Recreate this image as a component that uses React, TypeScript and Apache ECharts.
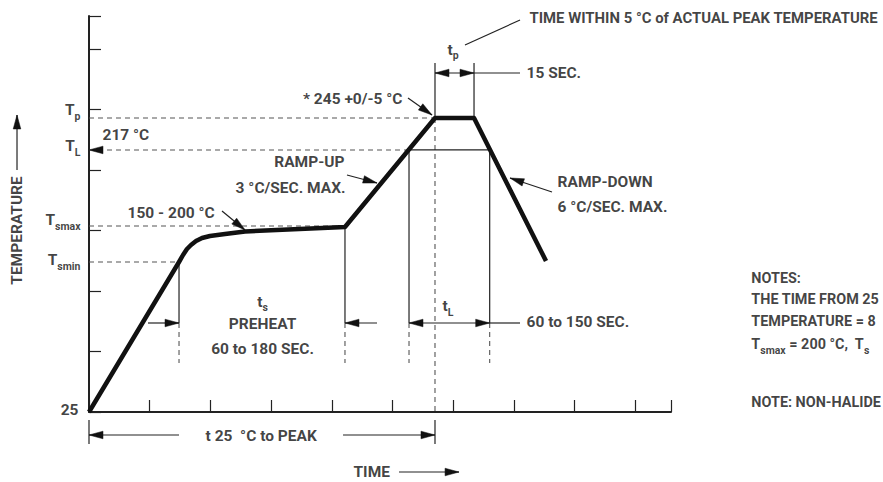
import React, { useEffect, useRef } from "react";
import * as echarts from "echarts";

// Axis extent, in grid divisions (the schematic has no numeric scale)
const X_MAX = 9.588;
const Y_MAX = 6.545;

// Reflow profile curve (divisions)
const profileTime = [0, 1.483, 1.549, 1.614, 1.68, 1.763, 1.862, 1.993, 2.241, 2.57, 4.217, 5.7, 6.343, 7.529];
const profileTemp = [0, 2.479, 2.595, 2.694, 2.76, 2.826, 2.876, 2.909, 2.942, 2.983, 3.058, 4.86, 4.86, 2.496];

// Guide segments [x1, y1, x2, y2]
const dashedSegments = [
  [0, 4.86, 5.7, 4.86],
  [0, 3.074, 4.217, 3.074],
  [0, 2.479, 1.483, 2.479],
  [5.7, 4.86, 5.7, 0],
  [1.483, 1.471, 1.483, 0.81],
  [4.217, 1.471, 4.217, 0.81],
  [5.272, 1.471, 5.272, 0.81],
  [6.601, 1.471, 6.601, 0.81],
];
const dashedArrowSegments = [[5.272, 4.331, 0, 4.331]];
const solidSegments = [
  [1.483, 2.479, 1.483, 1.471],
  [4.217, 3.058, 4.217, 1.471],
  [5.272, 4.331, 5.272, 1.471],
  [6.601, 4.331, 6.601, 1.471],
  [5.272, 4.331, 6.601, 4.331],
  [5.7, 4.86, 5.7, 5.769],
  [6.343, 4.86, 6.343, 5.769],
  [6.343, 5.603, 7.101, 5.603],
  [6.601, 1.471, 7.101, 1.471],
  [0, -0.132, 0, -0.529],
  [5.7, -0.132, 5.7, -0.529],
  [6.194, 6.066, 7.101, 6.479],
];
const arrowSegments = [
  [0.972, 1.471, 1.483, 1.471],
  [4.745, 1.471, 4.217, 1.471],
  [1.483, -0.38, 0, -0.38],
  [4.185, -0.38, 5.7, -0.38],
  [5.107, -0.992, 6.096, -0.992],
  [-1.186, 4.0, -1.186, 4.909],
  [2.191, 3.322, 2.57, 3.008],
  [5.255, 5.19, 5.651, 4.909],
  [4.25, 3.917, 4.745, 3.785],
  [7.628, 3.636, 6.936, 3.868],
];
const doubleArrowSegments = [
  [5.7, 5.603, 6.343, 5.603],
  [5.272, 1.471, 6.601, 1.471],
];

// Text annotations: [x, y, text, align]
const annotations: [number, number, string, string][] = [
  [5.914, 5.983, "t{s|p}", "left"],
  [7.216, 5.587, "15 SEC.", "left"],
  [5.173, 5.157, "* 245 +0/-5 °C", "right"],
  [0.231, 4.562, "217 °C", "left"],
  [4.217, 4.116, "RAMP-UP", "right"],
  [4.234, 3.702, "3 °C/SEC. MAX.", "right"],
  [0.643, 3.289, "150 - 200 °C", "left"],
  [7.727, 3.785, "RAMP-DOWN", "left"],
  [7.727, 3.372, "6 °C/SEC. MAX.", "left"],
  [2.867, 1.818, "t{s|s}", "center"],
  [2.867, 1.438, "PREHEAT", "center"],
  [2.867, 1.025, "60 to 180 SEC.", "center"],
  [5.832, 1.736, "t{s|L}", "left"],
  [7.216, 1.471, "60 to 150 SEC.", "left"],
  [1.928, -0.397, "t 25  °C to PEAK", "left"],
  [4.366, -0.992, "TIME", "left"],
  [-0.132, 4.975, "T{s|p}", "right"],
  [-0.132, 4.38, "T{s|L}", "right"],
  [-0.132, 3.157, "T{s|smax}", "right"],
  [-0.132, 2.496, "T{s|smin}", "right"],
  [-0.165, 0.017, "25", "right"],
];
const peakNote: [number, number, string] = [7.265, 6.496, "TIME WITHIN 5 °C of ACTUAL PEAK TEMPERATURE"];
const noteLines: [number, number, string][] = [
  [10.92, 2.199, "NOTES:"],
  [10.92, 1.851, "THE TIME FROM 25"],
  [10.92, 1.487, "TEMPERATURE = 8"],
  [10.92, 1.107, "T{s|smax} = 200 °C,  T{s|s}"],
  [10.92, 0.149, "NOTE: NON-HALIDE"],
];
const axisTitleY: [number, number, string] = [-1.186, 2.992, "TEMPERATURE"];

const FONT = "Roboto, 'DejaVu Sans Condensed', sans-serif";
const INK = "#111";

function head(from: number[], to: number[]) {
  const dx = to[0] - from[0];
  const dy = to[1] - from[1];
  const len = Math.hypot(dx, dy) || 1;
  const ux = dx / len;
  const uy = dy / len;
  const L = 14;
  const W = 3.8;
  const bx = to[0] - ux * L;
  const by = to[1] - uy * L;
  return {
    type: "polygon",
    shape: { points: [[to[0], to[1]], [bx - uy * W, by + ux * W], [bx + uy * W, by - ux * W]] },
    style: { fill: INK, stroke: INK, lineWidth: 0.5 },
  };
}

function segSeries(data: number[][], headStart: boolean, headEnd: boolean, dashed: boolean) {
  return {
    type: "custom",
    coordinateSystem: "cartesian2d",
    clip: false,
    silent: true,
    encode: { x: [0, 2], y: [1, 3] },
    data,
    renderItem: (_p: any, api: any) => {
      const p1 = api.coord([api.value(0), api.value(1)]);
      const p2 = api.coord([api.value(2), api.value(3)]);
      const children: any[] = [
        {
          type: "line",
          shape: { x1: p1[0], y1: p1[1], x2: p2[0], y2: p2[1] },
          style: {
            stroke: dashed ? "#555" : "#222",
            lineWidth: dashed ? 1.1 : 1.2,
            lineDash: dashed ? [5, 4] : null,
          },
        },
      ];
      if (headEnd) children.push(head(p1, p2));
      if (headStart) children.push(head(p2, p1));
      return { type: "group", children };
    },
  };
}

export default function App() {
  const ref = useRef<HTMLDivElement>(null);
  useEffect(() => {
    document.body.style.margin = "0";
    if (!ref.current) return;
    const chart = echarts.init(ref.current, null, { renderer: "svg" });
    const rich = {
      s: { fontSize: 10.5, fontWeight: "bold", fontFamily: FONT, color: INK, padding: [12, 0, 0, 0] },
    };
    const textData: any[] = annotations.map(([x, y, t, align]) => ({
      value: [x, y],
      label: { show: true, formatter: t, position: [0, 0], align, verticalAlign: "middle" },
    }));
    textData.push({
      value: [peakNote[0], peakNote[1]],
      label: { show: true, formatter: peakNote[2], position: [0, 0], align: "left", verticalAlign: "middle", fontSize: 14.9 },
    });
    noteLines.forEach(([x, y, t]) => {
      textData.push({
        value: [x, y],
        label: { show: true, formatter: t, position: [0, 0], align: "left", verticalAlign: "middle", fontSize: 14.4 },
      });
    });
    textData.push({
      value: [axisTitleY[0], axisTitleY[1]],
      label: {
        show: true,
        formatter: axisTitleY[2],
        position: [0, 0],
        align: "center",
        verticalAlign: "middle",
        rotate: 90,
      },
    });
    chart.setOption({
      animation: false,
      grid: { left: 89, top: 16, width: 582, height: 396, containLabel: false },
      xAxis: {
        type: "value",
        min: 0,
        max: X_MAX,
        interval: 1,
        axisLine: { show: true, lineStyle: { color: "#222", width: 2 } },
        axisTick: { show: true, inside: true, length: 12, lineStyle: { color: "#222", width: 1.2 } },
        axisLabel: { show: false },
        splitLine: { show: false },
      },
      yAxis: {
        type: "value",
        min: 0,
        max: Y_MAX,
        interval: 1,
        axisLine: { show: true, lineStyle: { color: "#222", width: 2 } },
        axisTick: { show: true, inside: true, length: 12, lineStyle: { color: "#222", width: 1.2 } },
        axisLabel: { show: false },
        splitLine: { show: false },
      },
      series: [
        segSeries(dashedSegments, false, false, true),
        segSeries(dashedArrowSegments, false, true, true),
        segSeries(solidSegments, false, false, false),
        segSeries(arrowSegments, false, true, false),
        segSeries(doubleArrowSegments, true, true, false),
        {
          type: "line",
          data: profileTime.map((t, i) => [t, profileTemp[i]]),
          showSymbol: false,
          symbol: "none",
          lineStyle: { color: INK, width: 4.5, join: "round" },
          silent: true,
          z: 5,
        },
        {
          type: "scatter",
          clip: false,
          silent: true,
          symbolSize: 1,
          itemStyle: { color: "rgba(0,0,0,0)" },
          label: {
            color: INK,
            fontFamily: FONT,
            fontWeight: "bold",
            fontSize: 15.5,
            rich,
          },
          data: textData,
          z: 10,
        },
      ],
    });
    return () => chart.dispose();
  }, []);
  return <div ref={ref} style={{ width: 883, height: 482 }} />;
}
